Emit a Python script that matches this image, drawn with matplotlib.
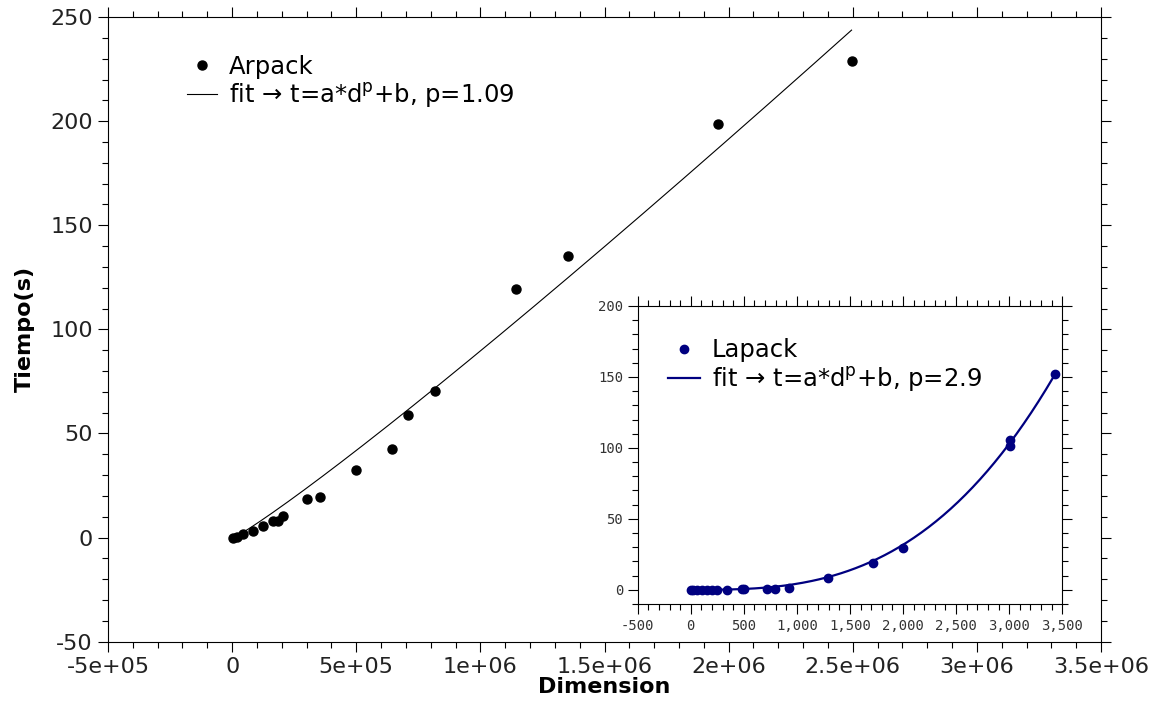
import numpy as np
import matplotlib.pyplot as plt
from matplotlib.ticker import MultipleLocator, FuncFormatter

plt.rcParams['axes.unicode_minus'] = False

# Arpack: dimension vs time (s)
arpack_dim = [4e3, 2e4, 4.4e4, 8.5e4, 1.25e5, 1.65e5, 1.85e5, 2.05e5, 3.0e5, 3.54e5,
              5.0e5, 6.44e5, 7.08e5, 8.17e5, 1.143e6, 1.352e6, 1.956e6, 2.495e6]
arpack_t = [0.0, 0.5, 1.9, 3.4, 5.8, 8.2, 8.2, 10.6, 18.3, 19.7,
            32.3, 42.4, 58.7, 70.3, 119.4, 135.3, 198.4, 228.7]
# fit t = a*d^p + b
arpack_a, arpack_p, arpack_b = 2.6e-5, 1.09, -0.5

# Lapack: dimension vs time (s)
lapack_dim = [0, 25, 57, 104, 151, 198, 245, 339, 480, 502, 722, 794, 929,
              1290, 1720, 2003, 3008, 3008, 3432]
lapack_t = [0.0, 0.0, 0.0, 0.0, 0.0, 0.0, 0.0, 0.1, 0.3, 0.4, 0.7, 0.8, 1.6,
            8.0, 19.2, 29.8, 101.6, 105.4, 151.9]
lapack_a, lapack_p, lapack_b = 8.48e-9, 2.9, 0.0

fig = plt.figure(figsize=(11.59, 7.01), dpi=100)

# main axes
ax = fig.add_axes([0.0932, 0.0846, 0.8568, 0.8911])
ax.plot(arpack_dim, arpack_t, 'o', color='black', ms=6.5, label='Arpack')
d = np.linspace(0, max(arpack_dim), 200)
ax.plot(d, arpack_a * d**arpack_p + arpack_b, color='black', lw=0.8,
        label='fit → t=a*d$^{\\mathrm{p}}$+b, p=1.09')
ax.set_xlim(-5e5, 3.5e6)
ax.set_ylim(-50, 250)
ax.xaxis.set_major_locator(MultipleLocator(5e5))
ax.xaxis.set_minor_locator(MultipleLocator(1e5))
ax.yaxis.set_major_locator(MultipleLocator(50))
ax.yaxis.set_minor_locator(MultipleLocator(10))
ax.xaxis.set_major_formatter(FuncFormatter(lambda v, p: '%.2g' % v))
ax.tick_params(which='both', direction='out', top=True, right=True,
               labelsize=16, labelcolor='#222222', width=0.8)
ax.tick_params(which='major', length=7.5)
ax.tick_params(which='minor', length=4.5)
ax.set_xlabel('Dimension', fontsize=16, fontweight='bold', labelpad=0)
ax.set_ylabel('Tiempo(s)', fontsize=16, fontweight='bold', labelpad=11)
ax.legend(loc='upper left', bbox_to_anchor=(0.058, 0.975), frameon=False,
          fontsize=17.5, handlelength=1.2, handletextpad=0.5, labelspacing=0.1)

# inset axes
ins = fig.add_axes([0.5502, 0.1384, 0.3663, 0.4251])
ins.plot(lapack_dim, lapack_t, 'o', color='navy', ms=6, label='Lapack')
d2 = np.linspace(0, max(lapack_dim), 200)
ins.plot(d2, lapack_a * d2**lapack_p + lapack_b, color='navy', lw=1.6,
         label='fit → t=a*d$^{\\mathrm{p}}$+b, p=2.9')
ins.set_xlim(-500, 3500)
ins.set_ylim(-10, 200)
ins.xaxis.set_major_locator(MultipleLocator(500))
ins.xaxis.set_minor_locator(MultipleLocator(100))
ins.yaxis.set_major_locator(MultipleLocator(50))
ins.yaxis.set_minor_locator(MultipleLocator(10))
ins.xaxis.set_major_formatter(FuncFormatter(lambda v, p: '{:,.0f}'.format(v)))
ins.tick_params(which='both', direction='out', top=True, right=True,
                labelsize=10, labelcolor='#333333', width=0.8)
ins.tick_params(which='major', length=7)
ins.tick_params(which='minor', length=4.3)
for lbl in ins.get_xticklabels() + ins.get_yticklabels():
    lbl.set_family('DejaVu Sans Mono')
ins.legend(loc='upper left', bbox_to_anchor=(0.02, 0.965), frameon=False,
           fontsize=17.5, handlelength=1.3, handletextpad=0.5, labelspacing=0.1)

fig.savefig('out.png', dpi=100)
